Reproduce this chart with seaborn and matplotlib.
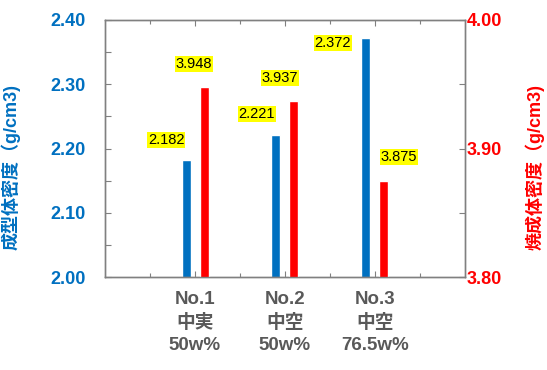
import matplotlib
matplotlib.use("Agg")
import matplotlib.pyplot as plt
import seaborn as sns
import pandas as pd
from matplotlib.ticker import MultipleLocator, FixedLocator, FormatStrFormatter

sns.set_style("white")
plt.rcParams['font.family'] = ['Liberation Sans', 'Noto Sans CJK JP', 'DejaVu Sans']

# data
samples = ["No.1\n中実\n50w%", "No.2\n中空\n50w%", "No.3\n中空\n76.5w%"]
green_density = [2.182, 2.221, 2.372]      # 成型体密度
sintered_density = [3.948, 3.937, 3.875]   # 焼成体密度
series_names = ["成型体密度", "焼成体密度"]

BLUE = "#0070C0"
RED = "#FF0000"
GRAY_TXT = "#595959"
SPINE = "#808080"

df = pd.DataFrame({
    "sample": samples * 2,
    "series": [series_names[0]] * 3 + [series_names[1]] * 3,
    "value": green_density + sintered_density,
})

fig = plt.figure(figsize=(5.47, 3.70), dpi=100)
ax = fig.add_axes([0.192, 0.251, 0.658, 0.695])
ax2 = ax.twinx()

common = dict(x="sample", y="value", hue="series", hue_order=series_names,
              order=samples, palette=[BLUE, RED], width=0.4, gap=0.5,
              dodge=True, legend=False, saturation=1)
sns.barplot(data=df[df.series == series_names[0]], ax=ax, **common)
sns.barplot(data=df[df.series == series_names[1]], ax=ax2, **common)

ax.set_xlim(-1, 3)
ax.set_ylim(2.0, 2.4)
ax2.set_ylim(3.8, 4.0)

# value labels (offsets in pixels from bar top)
offsets_left = [(-20, 20), (-19, 21), (-33, -5)]
offsets_right = [(-10, 23), (-14, 23), (15, 24)]
for axis, offs in ((ax, offsets_left), (ax2, offsets_right)):
    bars = [p for p in axis.patches if p.get_height() == p.get_height() and p.get_height() > 0]
    for p, (dx, dy) in zip(bars, offs):
        h = p.get_height()
        axis.annotate(f"{h:.3f}", (p.get_x() + p.get_width() / 2, h),
                      xytext=(dx, dy), textcoords="offset pixels",
                      ha="center", va="center", fontsize=10.5, color="black",
                      bbox=dict(boxstyle="square,pad=0.08", fc="#FFFF00", ec="none"))

# y axes
for a in (ax, ax2):
    a.yaxis.set_major_locator(MultipleLocator(0.1))
    a.yaxis.set_minor_locator(MultipleLocator(0.05))
    a.yaxis.set_major_formatter(FormatStrFormatter("%.2f"))

ax.tick_params(axis="y", which="both", direction="in", length=4, width=0.8,
               color=SPINE, labelcolor=BLUE, labelsize=13, pad=14, left=True, right=False)
ax2.tick_params(axis="y", which="both", direction="in", length=4, width=0.8,
                color=SPINE, labelcolor=RED, labelsize=13, pad=1.5, right=True, left=False)
for lab in ax.get_yticklabels() + ax2.get_yticklabels():
    lab.set_fontweight("bold")

# x axis
ax.xaxis.set_minor_locator(FixedLocator([-0.5, 0.5, 1.5, 2.5]))
ax.tick_params(axis="x", which="both", direction="in", color=SPINE, width=0.8,
               top=True, bottom=True, labelsize=13.5, labelcolor=GRAY_TXT, pad=10)
ax.tick_params(axis="x", which="major", length=4)
ax.tick_params(axis="x", which="minor", length=3)
ax.set_xticks(range(3))
ax.set_xticklabels(samples, fontweight="bold", linespacing=1.4)
ax.set_xlabel("")
ax2.set_xlabel("")

ax.set_ylabel("成型体密度（g/cm3)", color=BLUE, fontsize=13, fontweight="bold")
ax.yaxis.set_label_coords(-0.236, 0.43)
ax2.set_ylabel("焼成体密度（g/cm3)", color=RED, fontsize=13, fontweight="bold")
ax2.yaxis.set_label_coords(1.167, 0.43)

for a in (ax, ax2):
    for s in a.spines.values():
        s.set_color(SPINE)
        s.set_linewidth(1)

fig.savefig("out.png", dpi=100)
